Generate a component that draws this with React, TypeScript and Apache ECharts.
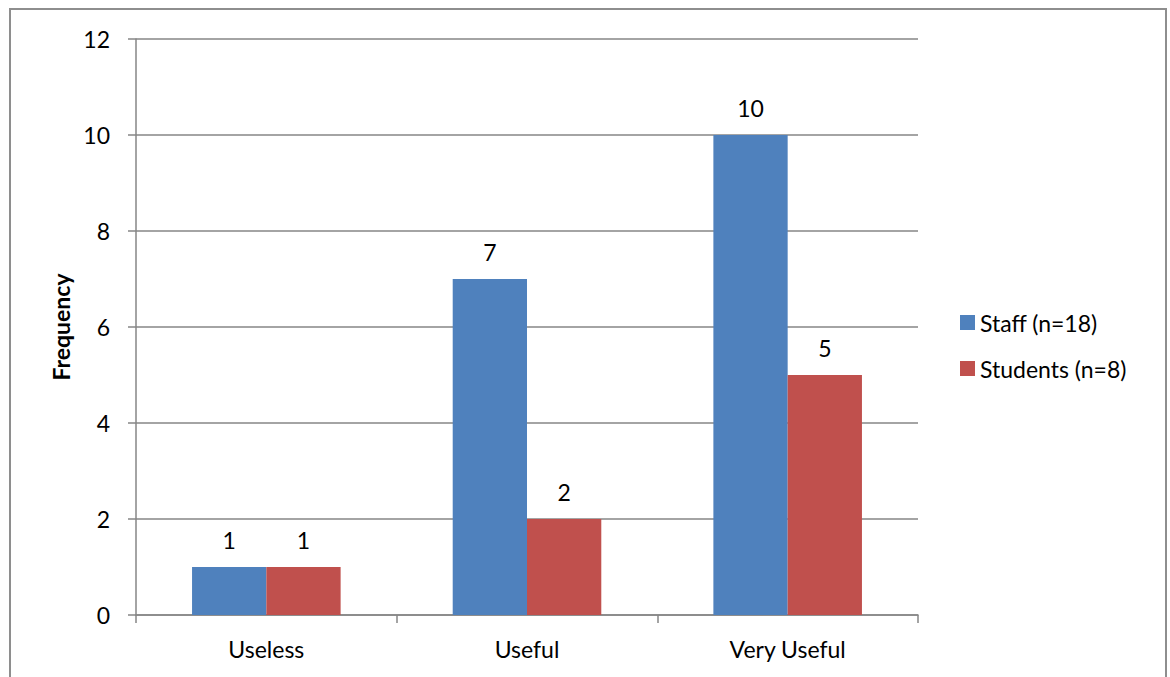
import React, { useEffect, useRef } from "react";
import * as echarts from "echarts";

const categories = ["Useless", "Useful", "Very Useful"];
const staff = [1, 7, 10];
const students = [1, 2, 5];
const seriesNames = ["Staff (n=18)", "Students (n=8)"];
const yTicks = { min: 0, max: 12, interval: 2 };

const FONT = "Lato, 'Open Sans', sans-serif";

export default function App() {
  const ref = useRef<HTMLDivElement>(null);
  useEffect(() => {
    if (!ref.current) return;
    const chart = echarts.init(ref.current, undefined, { renderer: "svg" });
    const labelStyle = {
      show: true,
      position: "top" as const,
      distance: 16,
      color: "#000",
      fontSize: 23,
      fontFamily: FONT,
    };
    chart.setOption({
      animation: false,
      backgroundColor: "#fff",
      textStyle: { fontFamily: FONT },
      graphic: [
        {
          type: "rect",
          shape: { x: 10, y: 9, width: 1156, height: 700 },
          style: { fill: "none", stroke: "#8e8e8e", lineWidth: 2 },
          silent: true,
        },
      ],
      grid: { left: 136, top: 39, right: 252, bottom: 62, containLabel: false },
      legend: {
        orient: "vertical",
        left: 960,
        top: 311,
        padding: 0,
        itemWidth: 15,
        itemHeight: 15,
        itemGap: 23,
        icon: "rect",
        textStyle: { color: "#000", fontSize: 23, fontFamily: FONT },
        data: seriesNames,
      },
      xAxis: {
        type: "category",
        data: categories,
        axisLine: { lineStyle: { color: "#868686", width: 1.5 } },
        axisTick: { show: true, length: 8, inside: false, lineStyle: { color: "#868686", width: 1.5 } },
        axisLabel: { color: "#000", fontSize: 23, fontFamily: FONT, margin: 22 },
        splitLine: { show: false },
      },
      yAxis: {
        type: "value",
        min: yTicks.min,
        max: yTicks.max,
        interval: yTicks.interval,
        name: "Frequency",
        nameLocation: "middle",
        nameGap: 62,
        nameRotate: 90,
        nameTextStyle: { color: "#000", fontSize: 23, fontWeight: "bold", fontFamily: FONT },
        axisLine: { show: true, lineStyle: { color: "#868686", width: 1.5 } },
        axisTick: { show: true, length: 8, inside: false, lineStyle: { color: "#868686", width: 1.5 } },
        axisLabel: { color: "#000", fontSize: 23, fontFamily: FONT, margin: 26 },
        splitLine: { show: true, lineStyle: { color: "#868686", width: 1.5 } },
      },
      series: [
        {
          name: seriesNames[0],
          type: "bar",
          data: staff,
          itemStyle: { color: "#4F81BD" },
          barGap: "0%",
          barCategoryGap: "43%",
          label: labelStyle,
        },
        {
          name: seriesNames[1],
          type: "bar",
          data: students,
          itemStyle: { color: "#C0504D" },
          barGap: "0%",
          barCategoryGap: "43%",
          label: labelStyle,
        },
      ],
    });
    return () => chart.dispose();
  }, []);
  return (
    <div
      ref={ref}
      style={{ position: "fixed", left: 0, top: 0, width: 1170, height: 677 }}
    />
  );
}
